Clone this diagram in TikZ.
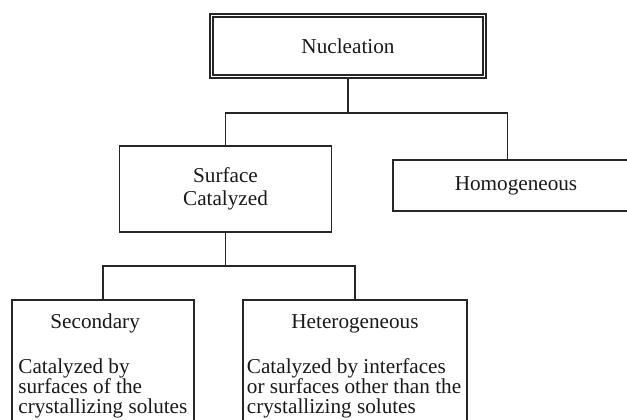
\documentclass[tikz,border=0pt]{standalone}
\usepackage{fontspec}
\setmainfont{Liberation Serif}
\usetikzlibrary{calc}
\begin{document}
\begin{tikzpicture}[x=0.5pt,y=-0.5pt,
    nuclTop/.style={draw=black!85,double,line width=0.8pt,double distance=0.9pt,inner sep=0pt,
        text=black!90,font=\fontsize{10.6}{11.6}\selectfont},
    nuclBox/.style={draw=black!85,line width=0.75pt,inner sep=0pt,align=center,
        text=black!90,font=\fontsize{10.6}{11.6}\selectfont},
    nuclTxt/.style={inner sep=0pt,text=black!90,font=\fontsize{10.6}{10}\selectfont},
    nuclLink/.style={draw=black!85,line width=0.75pt},
]
\useasboundingbox (0,0) rectangle (627,419);
\clip (0,0) rectangle (627,419);
% Boxes
\node[nuclTop,minimum width=136.5pt,minimum height=30.5pt] (nuc) at (348,46) {Nucleation};
\node[nuclBox,minimum width=106pt,minimum height=43pt] (surf) at (225.5,189) {Surface\\Catalyzed};
\node[nuclBox,minimum width=123pt,minimum height=25.5pt] (homo) at (516,185.5) {Homogeneous};
\node[nuclBox,minimum width=91pt,minimum height=75pt] (sec) at (103,375) {};
\node[nuclBox,minimum width=112pt,minimum height=75pt] (het) at (355,375) {};
% Texts of the lower boxes
\node[nuclTxt,anchor=base west] (secT) at (50,328) {Secondary};
\node[nuclTxt,anchor=north west,align=left] (secD) at (18,358.6)
    {Catalyzed by\\surfaces of the\\crystallizing solutes};
\node[nuclTxt,anchor=base] (hetT) at (355,328) {Heterogeneous};
\node[nuclTxt,anchor=north west,align=left] (hetD) at (246.5,358.6)
    {Catalyzed by interfaces\\or surfaces other than the\\crystallizing solutes};
% Tree links
\coordinate (homoIn) at ($(homo.north west)+(115,0)$);
\draw[nuclLink] (nuc.south) -- ++(0,35.5) coordinate (j1);
\draw[nuclLink] (surf.north) |- (j1) -| (homoIn);
\draw[nuclLink] (surf.south) -- ++(0,33) coordinate (j2);
\draw[nuclLink] (sec.north) |- (j2) -| (het.north);
\end{tikzpicture}
\end{document}
